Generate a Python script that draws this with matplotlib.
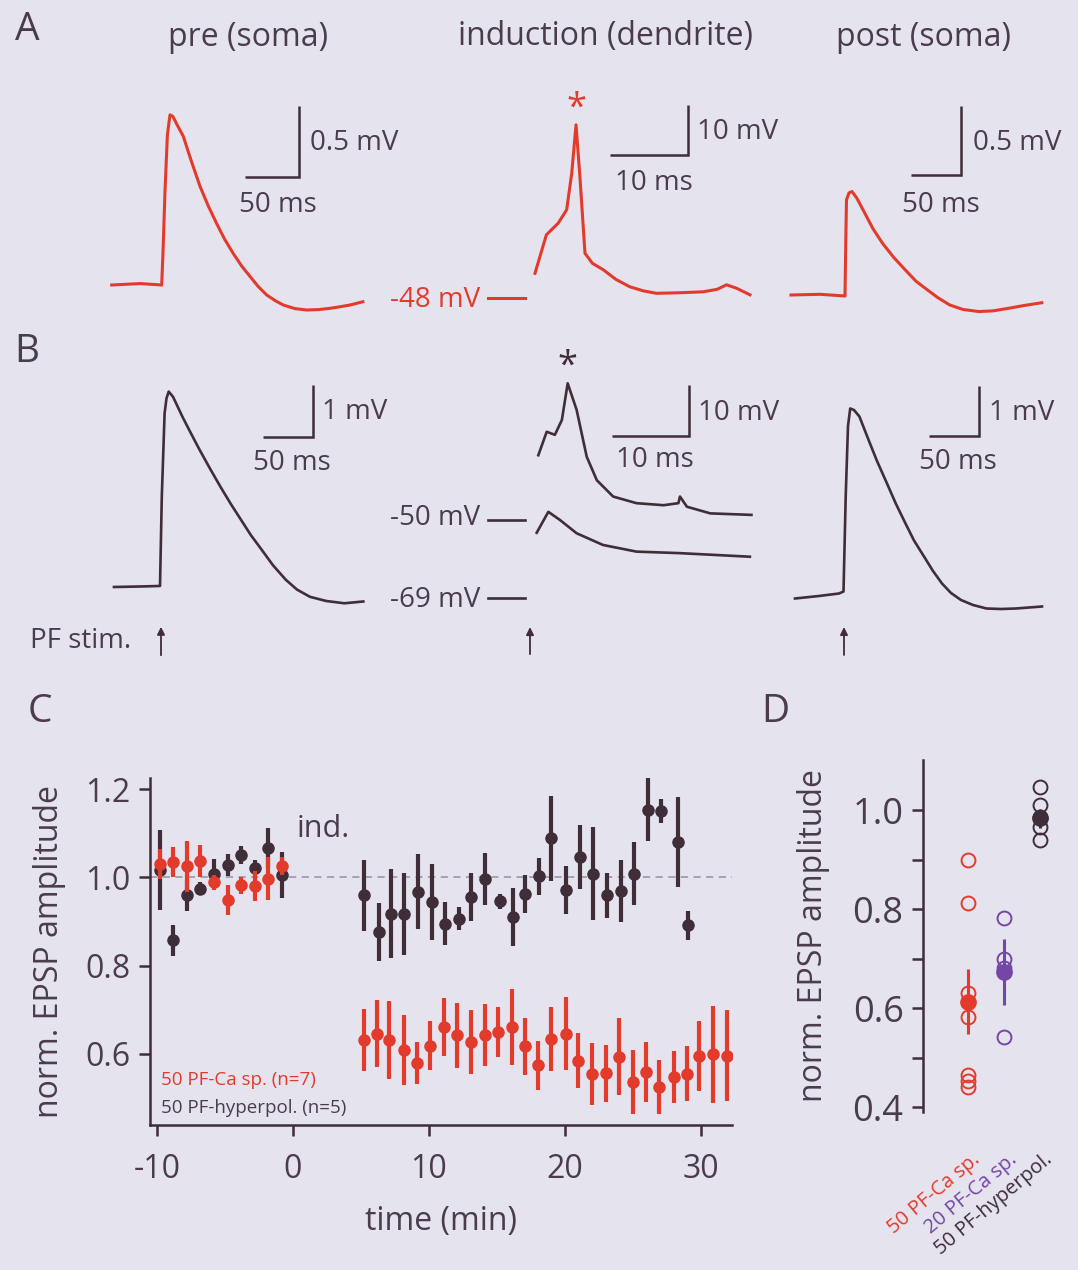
import matplotlib
matplotlib.use('Agg')
import matplotlib.pyplot as plt
from matplotlib.transforms import ScaledTranslation

plt.rcParams['font.family'] = ['Open Sans', 'DejaVu Sans']
plt.rcParams['axes.unicode_minus'] = False

# ---------------- data ----------------
# Panel A traces (t in ms from stimulus, v in mV relative to baseline)
a_pre_t = [-46.6, -20, -0.3, 0.8, 2.8, 5, 7.4, 10, 14, 19.7, 27, 35.2, 43, 50.6, 58, 66, 74,
           81.5, 89, 97, 105, 112.3, 123, 134, 145, 155.6, 165, 174, 186]
a_pre_v = [0, 0.01, 0, 0.2, 0.66, 1.05, 1.19, 1.18, 1.12, 1.04, 0.87, 0.69, 0.55, 0.43, 0.32,
           0.22, 0.13, 0.06, -0.01, -0.07, -0.11, -0.14, -0.165, -0.175, -0.172, -0.163,
           -0.152, -0.14, -0.117]

a_ind_base_t = [-5.4, -0.64]
a_ind_base_v = [0, 0]
a_ind_t = [0.64, 2.1, 3.6, 4.7, 5.35, 5.9, 6.4, 7.05, 8.0, 9.4, 11.0, 12.8, 14.5, 16.2, 19.0,
           22.2, 24.0, 25.2, 26.5, 28.2]
a_ind_v = [5.0, 12.7, 15.0, 17.7, 25.0, 34.7, 24.3, 9.0, 7.0, 5.7, 3.8, 2.3, 1.5, 1.0, 1.1,
           1.3, 1.8, 2.7, 2.0, 0.7]

a_post_t = [-54, -25, 0, 0.8, 1.5, 4, 7, 12, 20, 28, 38, 49, 60.5, 71, 82.6, 93, 104.7, 118,
            134, 148, 163.7, 180, 196.8]
a_post_v = [0, 0.005, -0.007, 0.4, 0.69, 0.74, 0.75, 0.70, 0.59, 0.48, 0.37, 0.27, 0.18, 0.10,
            0.036, -0.02, -0.072, -0.105, -0.12, -0.115, -0.096, -0.075, -0.056]

# Panel B traces
b_pre_t = [-47, -20, -1, 0.8, 3.6, 5.5, 7.7, 12, 21.5, 30, 38.7, 49, 59.4, 70, 80, 90, 100.7,
           112, 124.8, 136, 149, 165, 183.4, 202.3]
b_pre_v = [0, 0.01, 0.02, 1.75, 3.36, 3.65, 3.78, 3.68, 3.29, 2.97, 2.65, 2.29, 1.94, 1.60,
           1.30, 1.00, 0.72, 0.42, 0.14, -0.05, -0.19, -0.27, -0.315, -0.28]

b_ind_base_t = [-5.4, -0.64]
b_ind_base_v = [0, 0]
b_ind_hi_t = [1.07, 2.15, 3.2, 4.1, 4.85, 6.0, 7.3, 8.6, 10.7, 13.7, 17.2, 19.1, 19.3, 20.2,
              23.2, 28.5]
b_ind_hi_v = [12.7, 17.3, 16.7, 19.6, 26.8, 21.6, 12.4, 7.8, 4.6, 3.3, 2.9, 3.3, 4.6, 2.6,
              1.3, 1.0]
b_ind_lo_t = [0.86, 2.36, 3.86, 6.0, 9.4, 13.7, 19.3, 28.3]
b_ind_lo_v = [12.8, 16.9, 15.3, 12.7, 10.4, 9.1, 8.8, 8.1]

b_post_t = [-49, -25, -5, -0.5, 1.7, 4, 6.2, 10, 15.4, 24.6, 33, 43, 52, 61.5, 70, 80, 89, 98,
            107, 117, 129, 142.5, 157, 172, 198]
b_post_v = [-0.05, 0, 0.05, 0.09, 1.99, 3.4, 3.75, 3.72, 3.59, 3.12, 2.70, 2.25, 1.84, 1.45,
            1.11, 0.79, 0.50, 0.25, 0.06, -0.08, -0.18, -0.25, -0.26, -0.25, -0.21]

# Panel C: time course of normalised EPSP amplitude
pre_time = [-9.8, -8.8, -7.8, -6.8, -5.8, -4.8, -3.8, -2.8, -1.8, -0.8]
hyp_pre = [1.017, 0.857, 0.959, 0.974, 1.008, 1.027, 1.051, 1.022, 1.067, 1.006]
hyp_pre_err = [0.09, 0.036, 0.035, 0.015, 0.034, 0.025, 0.02, 0.017, 0.045, 0.052]
ca_pre = [1.031, 1.034, 1.025, 1.037, 0.989, 0.949, 0.982, 0.980, 0.997, 1.025]
ca_pre_err = [0.034, 0.034, 0.058, 0.036, 0.017, 0.034, 0.019, 0.034, 0.049, 0.02]

hyp_post_time = [5.2, 6.3, 7.2, 8.2, 9.2, 10.2, 11.2, 12.2, 13.1, 14.1, 15.2, 16.2, 17.1,
                 18.1, 19.0, 20.1, 21.1, 22.1, 23.1, 24.1, 25.1, 26.1, 27.1, 28.3, 29.1]
hyp_post = [0.959, 0.876, 0.918, 0.916, 0.967, 0.944, 0.895, 0.906, 0.955, 0.997, 0.946,
            0.910, 0.963, 1.002, 1.088, 0.972, 1.046, 1.008, 0.959, 0.969, 1.008, 1.153,
            1.150, 1.080, 0.891]
hyp_post_err = [0.081, 0.066, 0.100, 0.093, 0.085, 0.087, 0.049, 0.026, 0.055, 0.059, 0.017,
                0.066, 0.043, 0.042, 0.096, 0.054, 0.072, 0.105, 0.051, 0.071, 0.071, 0.071,
                0.028, 0.102, 0.032]

ca_post_time = [5.2, 6.2, 7.1, 8.2, 9.1, 10.1, 11.1, 12.1, 13.1, 14.1, 15.1, 16.1, 17.1, 18.0,
                19.0, 20.1, 21.0, 22.0, 23.0, 24.0, 25.0, 26.0, 26.9, 28.0, 29.0, 29.9, 30.9, 31.9]
ca_post = [0.632, 0.646, 0.632, 0.609, 0.579, 0.619, 0.661, 0.642, 0.627, 0.642, 0.649, 0.661,
           0.617, 0.574, 0.634, 0.646, 0.585, 0.555, 0.556, 0.594, 0.536, 0.559, 0.526, 0.547,
           0.555, 0.596, 0.599, 0.596]
ca_post_err = [0.070, 0.076, 0.089, 0.079, 0.048, 0.055, 0.066, 0.074, 0.073, 0.070, 0.057,
               0.085, 0.064, 0.055, 0.072, 0.082, 0.062, 0.070, 0.064, 0.088, 0.072, 0.068,
               0.061, 0.059, 0.062, 0.079, 0.110, 0.103]

# Panel D: summary
d_groups = ['50 PF-Ca sp.', '20 PF-Ca sp.', '50 PF-hyperpol.']
d_ca50 = [0.900, 0.813, 0.630, 0.581, 0.465, 0.453, 0.441]
d_ca20 = [0.781, 0.700, 0.680, 0.542]
d_hyp = [1.047, 1.010, 0.985, 0.966, 0.939]
d_means = [0.613, 0.673, 0.983]
d_errs = [0.066, 0.067, 0.020]

# ---------------- style ----------------
W, H = 1078, 1270
BG = '#e5e3ee'
RED = '#e23b2c'
DARK = '#3f2d37'
PURPLE = '#7446a6'
TXT = '#4b3c4c'
GRAY = '#a09eae'

fig = plt.figure(figsize=(W / 100, H / 100), dpi=100, facecolor=BG)


def px_axes(left, top, right, bottom):
    ax = fig.add_axes([left / W, 1 - bottom / H, (right - left) / W, (bottom - top) / H])
    ax.set_facecolor('none')
    return ax


def trace_axes(box, origin, px_ms, px_mv):
    left, top, right, bottom = box
    ox, oy = origin
    ax = px_axes(*box)
    ax.set_xlim((left - ox) / px_ms, (right - ox) / px_ms)
    ax.set_ylim((oy - bottom) / px_mv, (oy - top) / px_mv)
    ax.axis('off')
    return ax


def scalebar(ax, corner, dt, dv, tlabel, vlabel, tpos, vpos):
    cx, cy = corner
    ax.plot([cx - dt, cx, cx], [cy, cy, cy + dv], color=DARK, lw=1.8,
            solid_joinstyle='miter', solid_capstyle='butt')
    ax.text(vpos[0], vpos[1], vlabel, ha='left', va='center', fontsize=20, color=TXT)
    ax.text(tpos[0], tpos[1], tlabel, ha='center', va='center', fontsize=20, color=TXT)


def ftext(x, y, s, **kw):
    fig.text(x / W, 1 - y / H, s, **kw)


# ---- titles and panel letters ----
for x, s in [(248, 'pre (soma)'), (605, 'induction (dendrite)'), (924, 'post (soma)')]:
    ftext(x, 37, s, ha='center', va='center', fontsize=23, color=TXT)
for x, y, s in [(27, 30, 'A'), (27, 352, 'B'), (40, 712, 'C'), (775, 712, 'D')]:
    ftext(x, y, s, ha='center', va='center', fontsize=28, color=TXT)

TRACE_LW = 2.2
# ---- Panel A ----
ax = trace_axes((95, 80, 430, 330), (162, 285), 1.08, 143)
ax.plot(a_pre_t, a_pre_v, color=RED, lw=TRACE_LW, solid_joinstyle='round')
scalebar(ax, (127, 0.755), 50, 0.5, '50 ms', '0.5 mV', (107, 0.56), (137, 0.99))

ax = trace_axes((380, 80, 780, 330), (530, 298.3), 7.8, 5.0)
ax.plot(a_ind_base_t, a_ind_base_v, color=RED, lw=TRACE_LW)
ax.plot(a_ind_t, a_ind_v, color=RED, lw=TRACE_LW, solid_joinstyle='round')
ax.text(6.0, 38.0, '*', ha='center', va='center', fontsize=26, color=RED)
ax.text(-6.4, -0.3, '-48 mV', ha='right', va='center', fontsize=20, color=RED)
scalebar(ax, (20.3, 28.7), 10, 10, '10 ms', '10 mV', (15.9, 23.1), (21.4, 33.3))

ax = trace_axes((770, 80, 1078, 330), (845, 295), 1.0, 138)
ax.plot(a_post_t, a_post_v, color=RED, lw=TRACE_LW, solid_joinstyle='round')
scalebar(ax, (115.7, 0.87), 50, 0.5, '50 ms', '0.5 mV', (96, 0.65), (128, 1.10))

# ---- Panel B ----
arrow = dict(arrowstyle='-|>', lw=1.3, color=DARK, mutation_scale=11, shrinkA=0, shrinkB=0)
B_LW = 1.9

ax = trace_axes((20, 350, 430, 670), (161, 587), 1.0, 51.7)
ax.plot(b_pre_t, b_pre_v, color=DARK, lw=B_LW, solid_joinstyle='round')
scalebar(ax, (151.7, 2.91), 50, 1, '50 ms', '1 mV', (131, 2.40), (161, 3.38))
ax.annotate('', xy=(0, -0.77), xytext=(0, -1.32), arrowprops=arrow)
ax.text(-131, -1.04, 'PF stim.', ha='left', va='center', fontsize=20, color=TXT)

B_LO_OFFSET = -15.3  # display offset of the hyperpolarised trace
ax = trace_axes((380, 350, 780, 670), (530, 520), 7.77, 5.1)
ax.plot(b_ind_base_t, b_ind_base_v, color=DARK, lw=B_LW)
ax.plot(b_ind_hi_t, b_ind_hi_v, color=DARK, lw=B_LW, solid_joinstyle='round')
ax.plot(b_ind_base_t, [v + B_LO_OFFSET for v in b_ind_base_v], color=DARK, lw=B_LW)
ax.plot(b_ind_lo_t, [v + B_LO_OFFSET for v in b_ind_lo_v], color=DARK, lw=B_LW,
        solid_joinstyle='round')
ax.text(4.8, 30.0, '*', ha='center', va='center', fontsize=26, color=DARK)
ax.text(-6.4, 0.3, '-50 mV', ha='right', va='center', fontsize=20, color=TXT)
ax.text(-6.4, B_LO_OFFSET - 0.3, '-69 mV', ha='right', va='center', fontsize=20, color=TXT)
scalebar(ax, (20.5, 16.5), 10, 10, '10 ms', '10 mV', (16.1, 11.8), (21.6, 21.0))
ax.annotate('', xy=(0, -21.0), xytext=(0, -26.3), arrowprops=arrow)

ax = trace_axes((770, 350, 1078, 670), (844, 596), 1.0, 50)
ax.plot(b_post_t, b_post_v, color=DARK, lw=B_LW, solid_joinstyle='round')
scalebar(ax, (135, 3.19), 50, 1, '50 ms', '1 mV', (114, 2.68), (145, 3.66))
ax.annotate('', xy=(0, -0.62), xytext=(0, -1.18), arrowprops=arrow)

# ---- Panel C ----
axc = px_axes(150, 778, 732, 1125)
axc.set_xlim(-10.51, 32.3)
axc.set_ylim(0.439, 1.225)
axc.axhline(1.0, color=GRAY, lw=1.3, ls=(0, (4, 3)), zorder=0)
eb = dict(fmt='o', ms=8, elinewidth=3.0, capsize=0)
axc.errorbar(pre_time, hyp_pre, yerr=hyp_pre_err, color=DARK, zorder=2, **eb)
axc.errorbar(pre_time, ca_pre, yerr=ca_pre_err, color=RED, zorder=3, **eb)
axc.errorbar(hyp_post_time, hyp_post, yerr=hyp_post_err, color=DARK, zorder=2, **eb)
axc.errorbar(ca_post_time, ca_post, yerr=ca_post_err, color=RED, zorder=3, **eb)
for s in ['top', 'right']:
    axc.spines[s].set_visible(False)
for s in ['left', 'bottom']:
    axc.spines[s].set_color(DARK)
    axc.spines[s].set_linewidth(1.8)
axc.set_xticks([-10, 0, 10, 20, 30])
axc.set_yticks([0.6, 0.8, 1.0, 1.2])
axc.set_yticklabels(['0.6', '0.8', '1.0', '1.2'])
axc.tick_params(direction='out', length=8, width=1.8, color=DARK, labelsize=23,
                labelcolor=TXT)
axc.tick_params(axis='x', pad=12)
axc.tick_params(axis='y', pad=6)
axc.set_xlabel('time (min)', fontsize=23, color=TXT, labelpad=14)
axc.set_ylabel('norm. EPSP amplitude', fontsize=23, color=TXT, labelpad=14)
axc.text(0.3, 1.11, 'ind.', ha='left', va='center', fontsize=22, color=TXT)
axc.text(-9.7, 0.540, '50 PF-Ca sp. (n=7)', ha='left', va='center', fontsize=13.5, color=RED)
axc.text(-9.7, 0.478, '50 PF-hyperpol. (n=5)', ha='left', va='center', fontsize=13.5, color=TXT)

# ---- Panel D ----
axd = px_axes(923, 760, 1062, 1112)
axd.set_xlim(-1.25, 2.6)
axd.set_ylim(0.39, 1.101)
cols = [RED, PURPLE, DARK]
for i, vals in enumerate([d_ca50, d_ca20, d_hyp]):
    axd.plot([i] * len(vals), vals, 'o', ms=10, mfc='none', mec=cols[i], mew=1.4, zorder=2)
    axd.errorbar([i], [d_means[i]], yerr=[d_errs[i]], fmt='o', ms=11, color=cols[i],
                 elinewidth=2.2, capsize=0, zorder=3)
for s in ['top', 'right', 'bottom']:
    axd.spines[s].set_visible(False)
axd.spines['left'].set_color(DARK)
axd.spines['left'].set_linewidth(1.8)
axd.set_yticks([0.4, 0.6, 0.8, 1.0])
axd.set_yticklabels(['0.4', '0.6', '0.8', '1.0'])
axd.set_yticks([0.5, 0.7, 0.9], minor=True)
axd.tick_params(axis='y', which='both', direction='out', length=8, width=1.8, color=DARK,
                labelsize=26, labelcolor=TXT, pad=6)
axd.set_xticks([])
axd.set_ylabel('norm. EPSP amplitude', fontsize=23, color=TXT, labelpad=16)
lab_off = ScaledTranslation(10 / 100, -45 / 100, fig.dpi_scale_trans)
for i, (g, c) in enumerate(zip(d_groups, cols)):
    axd.text(i, 0, g, transform=axd.get_xaxis_transform() + lab_off, rotation=40,
             rotation_mode='anchor', ha='right', va='center', fontsize=14.5, color=c)

fig.savefig('out.png', dpi=100, facecolor=BG)
